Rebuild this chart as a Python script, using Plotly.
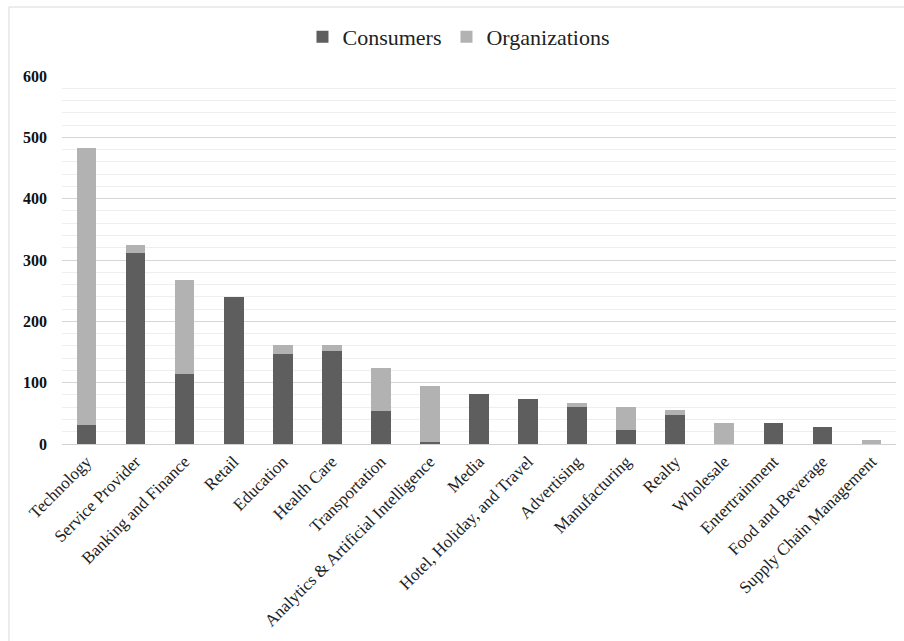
import plotly.graph_objects as go

categories = ["Technology", "Service Provider", "Banking and Finance", "Retail", "Education",
              "Health Care", "Transportation", "Analytics & Artificial Intelligence", "Media",
              "Hotel, Holiday, and Travel", "Advertising", "Manufacturing", "Realty", "Wholesale",
              "Entertrainment", "Food and Beverage", "Supply Chain Management"]
consumers = [31, 311, 114, 240, 147, 151, 54, 3, 81, 73, 61, 23, 47, 0, 34, 28, 0]
organizations = [451, 13, 153, 0, 14, 10, 70, 92, 0, 0, 6, 38, 8, 35, 0, 0, 7]
y_ticks = [0, 100, 200, 300, 400, 500, 600]

font_family = "Liberation Serif, Times New Roman, serif"

fig = go.Figure()
fig.add_trace(go.Bar(name="Consumers", x=categories, y=consumers,
                     marker=dict(color="#5e5e5e", line=dict(width=0))))
fig.add_trace(go.Bar(name="Organizations", x=categories, y=organizations,
                     marker=dict(color="#b2b2b2", line=dict(width=0))))

fig.update_layout(
    barmode="stack",
    bargap=0.6,
    width=904, height=641,
    margin=dict(l=62, r=8, t=76, b=197, autoexpand=False),
    paper_bgcolor="white",
    plot_bgcolor="white",
    font=dict(family=font_family, color="#222222"),
    legend=dict(orientation="h", x=0.476, xanchor="center",
                yref="container", y=1 - 37 / 641, yanchor="middle",
                font=dict(size=22, family=font_family, color="#222222"),
                itemsizing="constant", itemwidth=30, traceorder="normal"),
    showlegend=True,
)
fig.update_xaxes(
    tickangle=-45,
    tickfont=dict(size=17, family=font_family, color="#222222"),
    showline=True, linecolor="#d0d0d0", linewidth=1,
    showgrid=False, ticks="", automargin=False,
)
fig.update_yaxes(
    range=[0, 600],
    tickvals=y_ticks,
    tickfont=dict(size=16, family=font_family, color="#111111", weight="bold"),
    showgrid=True, gridcolor="#d6d6d6", gridwidth=1,
    minor=dict(dtick=20, showgrid=True, gridcolor="#eeeeee", gridwidth=1),
    zeroline=False, showline=False, ticks="",
    ticklabelstandoff=14, automargin=False,
)
fig.add_shape(type="rect", xref="paper", yref="paper",
              x0=-0.0636, x1=1.1, y0=-0.7, y1=1.1875,
              line=dict(color="#d9d9d9", width=1), fillcolor="rgba(0,0,0,0)", layer="below")

fig.write_html("out.html",
               config={"displayModeBar": False},
               post_script="document.body.style.margin='0';document.body.style.overflow='hidden';")
